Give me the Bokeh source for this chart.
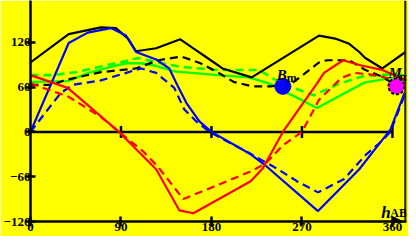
from bokeh.plotting import figure
from bokeh.models import Range1d, FixedTicker, Span, Arrow, NormalHead, Label
from bokeh.embed import file_html
from bokeh.resources import INLINE

# ---- data ----
x_ticks = [0, 90, 180, 270, 360]
y_ticks = [-120, -60, 0, 60, 120]

blk_h = [0, 38, 70, 85, 97, 105, 125, 149, 162, 176, 191, 220, 287, 303, 317, 327, 333, 350, 373]
blk_v = [93, 131, 140, 139, 125, 108, 112, 124, 112, 99, 85, 73, 129, 125, 118, 107, 99, 85, 107]

bkd_h = [0, 22, 33, 70, 105, 127, 150, 169, 186, 202, 221, 239, 260, 287, 295, 317, 333, 348, 364]
bkd_v = [63, 63, 69, 80, 85, 96, 101, 92, 80, 67, 61, 61, 65, 93, 96, 96, 83, 75, 62]

blu_h = [0, 38, 57, 80, 95, 105, 125, 138, 147, 155, 168, 180, 219, 232, 286, 327, 348, 358, 372]
blu_v = [0, 119, 133, 139, 129, 107, 97, 85, 60, 39, 14, 0, -30, -43, -106, -50, -14, 3, 52]

bld_h = [0, 8, 30, 42, 70, 110, 125, 143, 153, 165, 178, 217, 245, 265, 286, 312, 334, 348, 358, 372]
bld_v = [0, 14, 52, 63, 69, 85, 79, 59, 30, 14, 0, -28, -49, -66, -81, -63, -30, -14, 0, 49]

red_h = [0, 37, 88, 125, 148, 162, 219, 231, 251, 284, 292, 311, 329, 350, 374]
red_v = [76, 59, 0, -50, -105, -109, -66, -49, 0, 63, 79, 96, 89, 83, 69]

rdd_h = [0, 38, 70, 88, 112, 127, 152, 219, 234, 251, 270, 287, 309, 322, 338, 374]
rdd_v = [65, 47, 20, 0, -26, -47, -90, -53, -42, -18, 0, 43, 72, 79, 77, 67]

grn_h = [0, 37, 58, 80, 95, 110, 123, 143, 186, 217, 237, 285, 332, 358, 374]
grn_v = [67, 68, 79, 87, 92, 92, 89, 81, 76, 73, 65, 32, 66, 72, 69]

grd_h = [0, 22, 45, 95, 107, 130, 150, 186, 227, 251, 282, 306, 332, 358, 374]
grd_v = [76, 76, 80, 95, 99, 92, 87, 83, 83, 64, 49, 64, 75, 77, 76]

bm_h, bm_v = [251], [61]
mm_h, mm_v = [364], [61]

# ---- figure ----
YEL = "#ffff00"
FONT = "Liberation Serif"

p = figure(width=408, height=236, x_range=Range1d(0, 374), y_range=Range1d(-120, 176),
           output_backend="svg", toolbar_location=None,
           min_border_left=30, min_border_right=2, min_border_top=0, min_border_bottom=15)
p.background_fill_color = YEL
p.border_fill_color = YEL
p.outline_line_color = None
p.xgrid.visible = False
p.ygrid.visible = False

for ax in (p.xaxis[0], p.yaxis[0]):
    ax.axis_line_width = 2.5
    ax.major_tick_line_width = 2.5
    ax.minor_tick_line_color = None
    ax.major_tick_in = 5
    ax.major_tick_out = 5
    ax.major_label_text_font = FONT
    ax.major_label_text_font_style = "bold"
    ax.major_label_text_font_size = "13px"
    ax.major_label_text_color = "black"

p.xaxis.ticker = FixedTicker(ticks=x_ticks)
p.yaxis.ticker = FixedTicker(ticks=y_ticks)
p.xaxis.major_label_standoff = -4
p.yaxis.major_label_standoff = -5
p.yaxis.major_label_overrides = {t: (("\u2212" + str(-t)) if t < 0 else str(t)) for t in y_ticks}

# zero line with ticks
p.segment(x0=[x_ticks[0]], y0=[0], x1=[x_ticks[-1]], y1=[0], line_color="black", line_width=2.5)
p.segment(x0=x_ticks[1:], y0=[-8] * 4, x1=x_ticks[1:], y1=[8] * 4, line_color="black", line_width=2.5)

# right border
p.add_layout(Span(location=373, dimension="height", line_color="#222222", line_width=2.5))
# arrow on the h axis
p.add_layout(Arrow(end=NormalHead(size=9, fill_color="black", line_color="black"),
                   x_start=360, y_start=-120, x_end=370, y_end=-120,
                   line_color="black", line_width=2.5))

DASH = "8 5"
p.line(grd_h, grd_v, line_color="#00ff00", line_width=2.6, line_dash=DASH)
p.line(grn_h, grn_v, line_color="#00ff00", line_width=2.4)
p.line(bkd_h, bkd_v, line_color="black", line_width=2.2, line_dash=DASH)
p.line(blk_h, blk_v, line_color="black", line_width=2.2)
p.line(bld_h, bld_v, line_color="#0000ff", line_width=2.2, line_dash=DASH)
p.line(blu_h, blu_v, line_color="#0000ff", line_width=2.2)
p.line(rdd_h, rdd_v, line_color="#ff0000", line_width=2.2, line_dash=DASH)
p.line(red_h, red_v, line_color="#ff0000", line_width=2.2)

p.scatter(bm_h, bm_v, marker="circle", size=16, fill_color="#0000ff", line_color="#0000ff")
p.scatter(mm_h, mm_v, marker="circle", size=16, fill_color="#ff00ff", line_color="black",
          line_width=2, line_dash="3 2")

def lab(x, y, t, dx, dy, size, style):
    p.add_layout(Label(x=x, y=y, text=t, x_offset=dx, y_offset=dy, text_font=FONT,
                       text_font_style=style, text_font_size=size, text_color="black",
                       text_baseline="alphabetic"))

lab(bm_h[0], bm_v[0], "B", -6, 11, "15px", "bold italic")
lab(bm_h[0], bm_v[0], "m", 4, 8, "12px", "bold")
lab(mm_h[0], mm_v[0], "M", -8, 13, "15px", "bold italic")
lab(mm_h[0], mm_v[0], "m", 3, 9, "12px", "bold")
lab(349, -120, "h", 0, 9, "17px", "bold italic")
lab(349, -120, "AB", 9, 9, "12px", "bold")

open("out.html", "w").write(file_html(p, INLINE))
